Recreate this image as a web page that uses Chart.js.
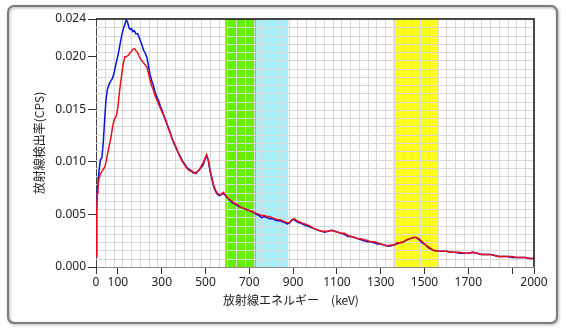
<!DOCTYPE html>
<html>
<head>
<meta charset="utf-8">
<script src="https://cdn.jsdelivr.net/npm/chart.js@4/dist/chart.umd.min.js"></script>
<style>
  html, body { margin: 0; padding: 0; background: #fff; }
  #spectrum { display: block; }
</style>
</head>
<body>
<canvas id="spectrum" width="566" height="329"></canvas>
<script>
// エネルギー (keV)
const energy = [
    0, 3, 6, 9, 14, 20, 27, 33, 40, 46, 52, 60, 68, 76, 84, 92, 100, 108, 116, 124,
    132, 138, 144, 150, 156, 162, 168, 175, 182, 190, 196, 203, 210, 218, 226, 233, 240, 247, 255, 263,
    270, 278, 286, 294, 302, 310, 320, 330, 339, 348, 357, 366, 375, 385, 395, 405, 415, 425, 433, 441,
    449, 457, 465, 473, 481, 489, 497, 505, 513, 521, 530, 538, 546, 555, 563, 572, 581, 590, 600, 612,
    624, 636, 648, 660, 672, 684, 696, 708, 720, 732, 744, 756, 768, 780, 792, 804, 816, 828, 840, 852,
    864, 874, 884, 895, 905, 917, 929, 941, 953, 965, 977, 990, 1003, 1016, 1030, 1045, 1060, 1075, 1090, 1105,
    1120, 1135, 1150, 1165, 1180, 1195, 1210, 1225, 1240, 1255, 1270, 1285, 1300, 1315, 1330, 1345, 1360, 1375, 1390, 1405,
    1420, 1435, 1450, 1462, 1475, 1490, 1505, 1520, 1540, 1560, 1580, 1600, 1620, 1640, 1660, 1680, 1700, 1720, 1740, 1760,
    1780, 1800, 1820, 1840, 1860, 1880, 1900, 1920, 1940, 1960, 1980, 2000
];

// 検出率 (CPS) 青
const rateBlue = [
    0.0010, 0.0062, 0.0075, 0.0081, 0.0092, 0.0102, 0.0104, 0.0118, 0.0142, 0.0160, 0.0169, 0.0174, 0.0177, 0.0180, 0.0186, 0.0194, 0.0201, 0.0210, 0.0219, 0.0226,
    0.0231, 0.0235, 0.0233, 0.0228, 0.0226, 0.0227, 0.0224, 0.0225, 0.0222, 0.0222, 0.0219, 0.0215, 0.0211, 0.0206, 0.0203, 0.0199, 0.0191, 0.0183, 0.0177, 0.0172,
    0.0166, 0.0162, 0.0158, 0.0153, 0.0149, 0.0144, 0.0138, 0.0133, 0.0128, 0.0122, 0.0117, 0.0113, 0.0109, 0.0105, 0.0101, 0.0098, 0.0095, 0.0093, 0.0092, 0.0090,
    0.0090, 0.0089, 0.0091, 0.0093, 0.0095, 0.0097, 0.0102, 0.0106, 0.0101, 0.0091, 0.0083, 0.0076, 0.0072, 0.0069, 0.0068, 0.0069, 0.0070, 0.0068, 0.0066, 0.0063,
    0.0061, 0.0060, 0.0058, 0.0057, 0.0056, 0.0055, 0.0054, 0.0053, 0.0052, 0.0050, 0.0049, 0.0047, 0.0048, 0.0047, 0.0046, 0.0046, 0.0045, 0.0044, 0.0044, 0.0043,
    0.0042, 0.0041, 0.0042, 0.0045, 0.0045, 0.0043, 0.0042, 0.0041, 0.0040, 0.0039, 0.0038, 0.0037, 0.0036, 0.0035, 0.0034, 0.0033, 0.0034, 0.0035, 0.0034, 0.0033,
    0.0032, 0.0031, 0.0029, 0.0029, 0.0028, 0.0027, 0.0026, 0.0025, 0.0024, 0.0024, 0.0023, 0.0022, 0.0022, 0.0021, 0.0020, 0.0020, 0.0021, 0.0022, 0.0023, 0.0024,
    0.0026, 0.0027, 0.0028, 0.0028, 0.0026, 0.0023, 0.0021, 0.0018, 0.0016, 0.0015, 0.0015, 0.0015, 0.0014, 0.0014, 0.0013, 0.0013, 0.0013, 0.0014, 0.0013, 0.0012,
    0.0012, 0.0012, 0.0011, 0.0010, 0.0010, 0.0010, 0.0009, 0.0009, 0.0009, 0.0009, 0.0008, 0.0008
];

// 検出率 (CPS) 赤
const rateRed = [
    0.0010, 0.0052, 0.0070, 0.0078, 0.0084, 0.0089, 0.0091, 0.0093, 0.0095, 0.0100, 0.0107, 0.0115, 0.0123, 0.0134, 0.0141, 0.0143, 0.0152, 0.0168, 0.0181, 0.0193,
    0.0200, 0.0200, 0.0201, 0.0202, 0.0204, 0.0205, 0.0207, 0.0208, 0.0206, 0.0204, 0.0201, 0.0198, 0.0196, 0.0194, 0.0192, 0.0190, 0.0184, 0.0178, 0.0172, 0.0168,
    0.0163, 0.0159, 0.0155, 0.0151, 0.0147, 0.0144, 0.0139, 0.0132, 0.0127, 0.0122, 0.0118, 0.0114, 0.0109, 0.0104, 0.0100, 0.0097, 0.0094, 0.0092, 0.0091, 0.0091,
    0.0089, 0.0090, 0.0091, 0.0093, 0.0096, 0.0099, 0.0103, 0.0107, 0.0102, 0.0092, 0.0084, 0.0077, 0.0073, 0.0070, 0.0069, 0.0069, 0.0071, 0.0069, 0.0066, 0.0064,
    0.0062, 0.0060, 0.0059, 0.0057, 0.0056, 0.0055, 0.0054, 0.0053, 0.0052, 0.0051, 0.0050, 0.0049, 0.0049, 0.0048, 0.0048, 0.0047, 0.0046, 0.0045, 0.0045, 0.0044,
    0.0043, 0.0042, 0.0042, 0.0045, 0.0046, 0.0044, 0.0043, 0.0042, 0.0041, 0.0040, 0.0039, 0.0037, 0.0036, 0.0035, 0.0034, 0.0034, 0.0034, 0.0035, 0.0034, 0.0033,
    0.0032, 0.0032, 0.0030, 0.0029, 0.0028, 0.0027, 0.0027, 0.0026, 0.0025, 0.0024, 0.0024, 0.0023, 0.0022, 0.0021, 0.0020, 0.0021, 0.0021, 0.0023, 0.0023, 0.0024,
    0.0026, 0.0027, 0.0028, 0.0028, 0.0027, 0.0024, 0.0021, 0.0019, 0.0016, 0.0015, 0.0015, 0.0015, 0.0014, 0.0014, 0.0014, 0.0013, 0.0013, 0.0014, 0.0013, 0.0012,
    0.0012, 0.0012, 0.0011, 0.0010, 0.0010, 0.0010, 0.0010, 0.0009, 0.0009, 0.0009, 0.0008, 0.0008
];

// 目盛り
const xTickValues = [0, 100, 300, 500, 700, 900, 1100, 1300, 1500, 1700, 1900, 2000];
const xTickLabels = [0, 100, 300, 500, 700, 900, 1100, 1300, 1500, 1700, 2000];
const yTickValues = [0, 0.005, 0.010, 0.015, 0.020, 0.0236];

// エネルギー窓 (keV)
const windowRanges = [[590, 732], [732, 878], [1356, 1563]];
const windowColors = ['#66ef00', '#a8f0f8', '#ffff1e'];

const labelFont = { family: 'Noto Sans', size: 12 };
const titleFont = { family: 'Noto Sans CJK JP', size: 12 };

// 外枠
const framePlugin = {
    id: 'frame',
    beforeDraw(chart) {
        const ctx = chart.ctx;
        ctx.save();
        ctx.fillStyle = '#fff';
        ctx.fillRect(0, 0, chart.width, chart.height);
        ctx.shadowColor = 'rgba(0,0,0,0.35)';
        ctx.shadowBlur = 3;
        ctx.shadowOffsetX = 1;
        ctx.shadowOffsetY = 1;
        ctx.strokeStyle = '#7c7c7c';
        ctx.lineWidth = 2;
        ctx.beginPath();
        ctx.roundRect(8, 6, 549, 317, 6);
        ctx.stroke();
        ctx.restore();
    }
};

// 窓の塗りつぶしと細かい格子
const plotBackPlugin = {
    id: 'plotBack',
    beforeDatasetsDraw(chart) {
        const { ctx, chartArea: a, scales: { x, y } } = chart;
        ctx.save();
        windowRanges.forEach(([lo, hi], i) => {
            const x0 = x.getPixelForValue(lo);
            const x1 = x.getPixelForValue(hi);
            ctx.fillStyle = windowColors[i];
            ctx.fillRect(x0, a.top, x1 - x0, a.bottom - a.top);
        });
        ctx.strokeStyle = '#d9d9d9';
        ctx.lineWidth = 1;
        ctx.beginPath();
        for (let v = 40; v < x.max; v += 40) {
            const px = Math.round(x.getPixelForValue(v)) + 0.5;
            ctx.moveTo(px, a.top);
            ctx.lineTo(px, a.bottom);
        }
        for (let k = 1; k < 30; k++) {
            const py = Math.round(y.getPixelForValue(y.max * k / 30)) + 0.5;
            ctx.moveTo(a.left, py);
            ctx.lineTo(a.right, py);
        }
        ctx.stroke();
        ctx.restore();
    },
    afterDatasetsDraw(chart) {
        const { ctx, chartArea: a } = chart;
        ctx.save();
        ctx.strokeStyle = '#111';
        ctx.lineWidth = 1.5;
        ctx.beginPath();
        ctx.moveTo(a.left, a.top);
        ctx.lineTo(a.right, a.top);
        ctx.lineTo(a.right, a.bottom);
        ctx.stroke();
        ctx.restore();
    }
};

new Chart(document.getElementById('spectrum'), {
    type: 'line',
    data: {
        datasets: [
            {
                label: '赤',
                data: energy.map((e, i) => ({ x: e, y: rateRed[i] })),
                borderColor: '#e8101a',
                borderWidth: 1.5,
                order: 0
            },
            {
                label: '青',
                data: energy.map((e, i) => ({ x: e, y: rateBlue[i] })),
                borderColor: '#0a14e0',
                borderWidth: 1.5,
                order: 1
            }
        ]
    },
    options: {
        responsive: false,
        animation: false,
        events: [],
        layout: { padding: { top: 19, right: 32, bottom: 0, left: 0 } },
        elements: { point: { radius: 0 }, line: { tension: 0 } },
        plugins: { legend: { display: false }, tooltip: { enabled: false } },
        scales: {
            x: {
                type: 'linear',
                min: 0,
                max: 2000,
                afterBuildTicks: s => { s.ticks = xTickValues.map(v => ({ value: v })); },
                afterFit: s => { s.height = 62; },
                ticks: {
                    autoSkip: false,
                    maxRotation: 0,
                    padding: 1,
                    color: '#222',
                    font: labelFont,
                    callback: v => xTickLabels.includes(v) ? String(v) : ''
                },
                grid: { drawOnChartArea: false, drawTicks: true, tickLength: 7, color: '#333' },
                border: { color: '#8a8a8a', width: 1 },
                title: {
                    display: true,
                    text: '放射線エネルギー　(keV)　　　　',
                    color: '#222',
                    font: titleFont,
                    padding: { top: 0, bottom: 21 }
                }
            },
            y: {
                type: 'linear',
                min: 0,
                max: 0.0236,
                afterBuildTicks: s => { s.ticks = yTickValues.map(v => ({ value: v })); },
                afterFit: s => { s.width = 96; },
                ticks: {
                    padding: 2,
                    color: '#222',
                    font: labelFont,
                    callback: v => v.toFixed(3)
                },
                grid: { drawOnChartArea: false, drawTicks: true, tickLength: 8, color: '#333' },
                border: { color: '#444', width: 1 },
                title: {
                    display: true,
                    text: '放射線検出率(CPS)',
                    color: '#222',
                    font: titleFont,
                    padding: { top: 32, bottom: 0 }
                }
            }
        }
    },
    plugins: [framePlugin, plotBackPlugin]
});
</script>
</body>
</html>
